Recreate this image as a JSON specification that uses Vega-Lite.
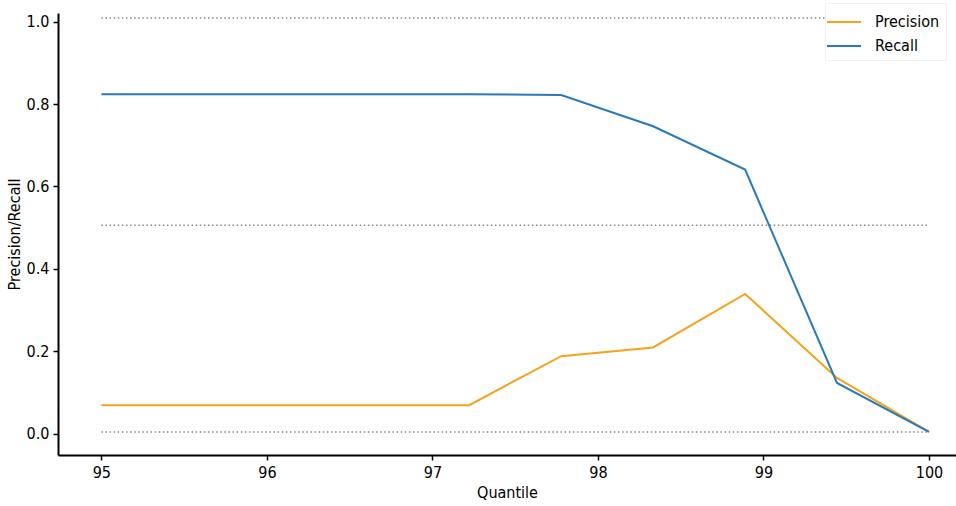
{
  "$schema": "https://vega.github.io/schema/vega-lite/v6.json",
  "autosize": {"type": "none"},
  "width": 898,
  "height": 442,
  "padding": {"left": 58, "top": 13, "right": 0, "bottom": 51},
  "background": "white",
  "datasets": {
    "pr": [
      {"q": 95.0, "series": "Precision", "v": 0.069},
      {"q": 95.556, "series": "Precision", "v": 0.069},
      {"q": 96.111, "series": "Precision", "v": 0.069},
      {"q": 96.667, "series": "Precision", "v": 0.069},
      {"q": 97.222, "series": "Precision", "v": 0.069},
      {"q": 97.778, "series": "Precision", "v": 0.188},
      {"q": 98.333, "series": "Precision", "v": 0.209},
      {"q": 98.889, "series": "Precision", "v": 0.339},
      {"q": 99.444, "series": "Precision", "v": 0.135},
      {"q": 100.0, "series": "Precision", "v": 0.004},
      {"q": 95.0, "series": "Recall", "v": 0.824},
      {"q": 95.556, "series": "Recall", "v": 0.824},
      {"q": 96.111, "series": "Recall", "v": 0.824},
      {"q": 96.667, "series": "Recall", "v": 0.824},
      {"q": 97.222, "series": "Recall", "v": 0.824},
      {"q": 97.778, "series": "Recall", "v": 0.822},
      {"q": 98.333, "series": "Recall", "v": 0.746},
      {"q": 98.889, "series": "Recall", "v": 0.641},
      {"q": 99.444, "series": "Recall", "v": 0.123},
      {"q": 100.0, "series": "Recall", "v": 0.004}
    ],
    "ref": [
      {"q": 95.0, "level": 0.004},
      {"q": 100.0, "level": 0.004},
      {"q": 95.0, "level": 0.506},
      {"q": 100.0, "level": 0.506},
      {"q": 95.0, "level": 1.009},
      {"q": 100.0, "level": 1.009}
    ]
  },
  "config": {
    "view": {"stroke": null},
    "font": "DejaVu Sans Condensed",
    "axis": {
      "grid": false,
      "domainColor": "black",
      "domainWidth": 2,
      "tickColor": "black",
      "tickWidth": 1.5,
      "tickSize": 5,
      "labelFont": "DejaVu Sans Condensed",
      "labelFontSize": 16,
      "labelColor": "black",
      "titleFont": "DejaVu Sans Condensed",
      "titleFontSize": 16,
      "titleFontWeight": "normal",
      "titleColor": "black"
    },
    "legend": {
      "labelFont": "DejaVu Sans Condensed",
      "labelFontSize": 16,
      "labelColor": "black"
    }
  },
  "layer": [
    {
      "data": {"name": "ref"},
      "mark": {"type": "line", "color": "#888888", "strokeWidth": 1.5, "strokeDash": [1.5, 2.6]},
      "encoding": {
        "x": {"field": "q", "type": "quantitative"},
        "y": {"field": "level", "type": "quantitative"},
        "detail": {"field": "level", "type": "nominal"}
      }
    },
    {
      "data": {"name": "pr"},
      "mark": {"type": "line", "strokeWidth": 2},
      "encoding": {
        "x": {
          "field": "q",
          "type": "quantitative",
          "title": "Quantile",
          "scale": {"domain": [94.738, 100.163], "nice": false, "zero": false},
          "axis": {"values": [95, 96, 97, 98, 99, 100], "format": "d", "labelPadding": 4, "titlePadding": 4}
        },
        "y": {
          "field": "v",
          "type": "quantitative",
          "title": "Precision/Recall",
          "scale": {"domain": [-0.052, 1.021], "nice": false, "zero": false},
          "axis": {"values": [0, 0.2, 0.4, 0.6, 0.8, 1.0], "format": ".1f", "labelPadding": 4, "titlePadding": 4}
        },
        "color": {
          "field": "series",
          "type": "nominal",
          "scale": {"domain": ["Precision", "Recall"], "range": ["#f7a21b", "#2a7ab8"]},
          "legend": {
            "title": null,
            "orient": "none",
            "legendX": 767,
            "legendY": -10,
            "symbolType": "M-1.42,0L1.42,0",
            "symbolSize": 576,
            "symbolStrokeWidth": 2,
            "fillColor": "white",
            "strokeColor": "#f0f0f0",
            "padding": 6,
            "rowPadding": 3,
            "labelOffset": 18,
            "offset": 0
          }
        }
      }
    }
  ]
}
